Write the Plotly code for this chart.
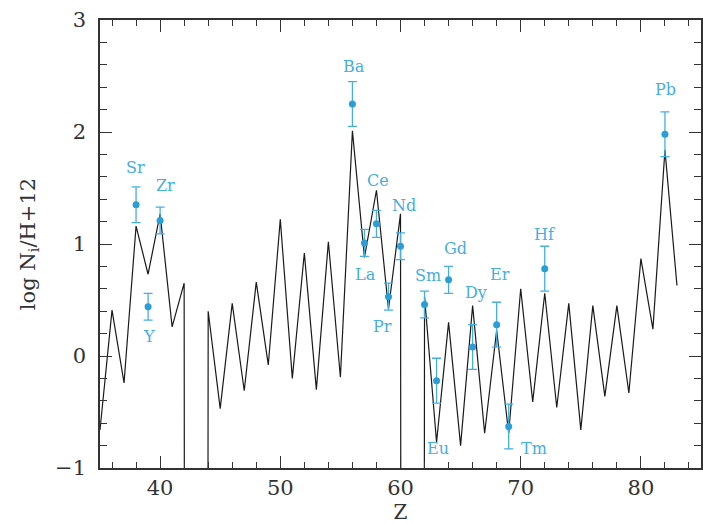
import plotly.graph_objects as go

# Model abundances (black zigzag), Z = 35 ... 83
model_Z = list(range(35, 84))
model_logN = [
    -0.66, 0.41, -0.24, 1.16, 0.73, 1.27, 0.26, 0.65,
    -99.0,                      # Tc (Z=43): no stable isotopes, off scale
    0.40, -0.47, 0.47, -0.31, 0.66, -0.08, 1.22, -0.20, 0.92, -0.30,
    1.02, -0.19, 2.01, 0.88, 1.48, 0.42, 1.27,
    -99.0,                      # Pm (Z=61): no stable isotopes, off scale
    0.53, -0.77, 0.30, -0.80, 0.45, -0.69, 0.23, -0.69, 0.60, -0.41,
    0.56, -0.46, 0.47, -0.66, 0.45, -0.36, 0.45, -0.33, 0.87, 0.24,
    1.84, 0.63,
]

# Observed abundances (blue points with error bars)
obs_el = ["Sr", "Y", "Zr", "Ba", "La", "Ce", "Pr", "Nd", "Sm", "Eu",
          "Gd", "Dy", "Er", "Tm", "Hf", "Pb"]
obs_Z = [38, 39, 40, 56, 57, 58, 59, 60, 62, 63, 64, 66, 68, 69, 72, 82]
obs_logN = [1.35, 0.44, 1.21, 2.25, 1.01, 1.18, 0.53, 0.98, 0.46, -0.22,
            0.68, 0.08, 0.28, -0.63, 0.78, 1.98]
obs_err = [0.16, 0.12, 0.12, 0.20, 0.12, 0.12, 0.12, 0.12, 0.12, 0.20,
           0.12, 0.20, 0.20, 0.20, 0.20, 0.20]

# Label offsets in pixels relative to each point (layout only)
label_offset = {
    "Sr": (-1, -37), "Y": (1, 30), "Zr": (5, -35), "Ba": (2, -38),
    "La": (1, 32), "Ce": (2, -43), "Pr": (-6, 30), "Nd": (3, -41),
    "Sm": (3, -29), "Eu": (1, 68), "Gd": (7, -31), "Dy": (3, -55),
    "Er": (3, -50), "Tm": (25, 22), "Hf": (0, -34), "Pb": (1, -45),
}

FONT = "DejaVu Serif"
BLUE = "#2b9ed8"
LBLUE = "#45aee2"
AXC = "#333333"

fig = go.Figure()
fig.add_trace(go.Scatter(
    x=model_Z, y=model_logN, mode="lines",
    line=dict(color="#1a1a1a", width=1.2),
    showlegend=False, hoverinfo="skip",
))
fig.add_trace(go.Scatter(
    x=obs_Z, y=obs_logN, mode="markers",
    marker=dict(color=BLUE, size=7),
    error_y=dict(type="data", array=obs_err, visible=True,
                 color=LBLUE, thickness=1.3, width=4.5),
    showlegend=False,
))

for el, z, v in zip(obs_el, obs_Z, obs_logN):
    dx, dy = label_offset[el]
    fig.add_annotation(
        x=z, y=v, xref="x", yref="y", text=el, showarrow=False,
        xshift=dx, yshift=-dy,
        font=dict(family=FONT, size=16, color=LBLUE),
    )

axis_common = dict(
    showline=True, linecolor=AXC, linewidth=1.5, mirror="allticks",
    ticks="inside", tickcolor=AXC, tickwidth=1.2, ticklen=12,
    showgrid=False, zeroline=False,
    tickfont=dict(family=FONT, size=21, color="#333333"),
)

fig.update_xaxes(
    range=[35, 85], dtick=10, tick0=0,
    minor=dict(dtick=2, ticks="inside", ticklen=6, tickcolor=AXC, tickwidth=1.0),
    title=dict(text="Z", font=dict(family=FONT, size=20, color="#333333"), standoff=0),
    **axis_common,
)
fig.update_yaxes(
    range=[-1, 3], dtick=1, tick0=0,
    minor=dict(dtick=0.2, ticks="inside", ticklen=7, tickcolor=AXC, tickwidth=1.0),
    title=dict(text="log N<sub>i</sub>/H+12",
               font=dict(family=FONT, size=21, color="#333333"), standoff=14),
    ticklabelstandoff=8,
    **axis_common,
)

fig.update_layout(
    width=703, height=524,
    margin=dict(l=100, r=0, t=20, b=56),
    paper_bgcolor="white", plot_bgcolor="white",
)

fig.write_html("out.html")
